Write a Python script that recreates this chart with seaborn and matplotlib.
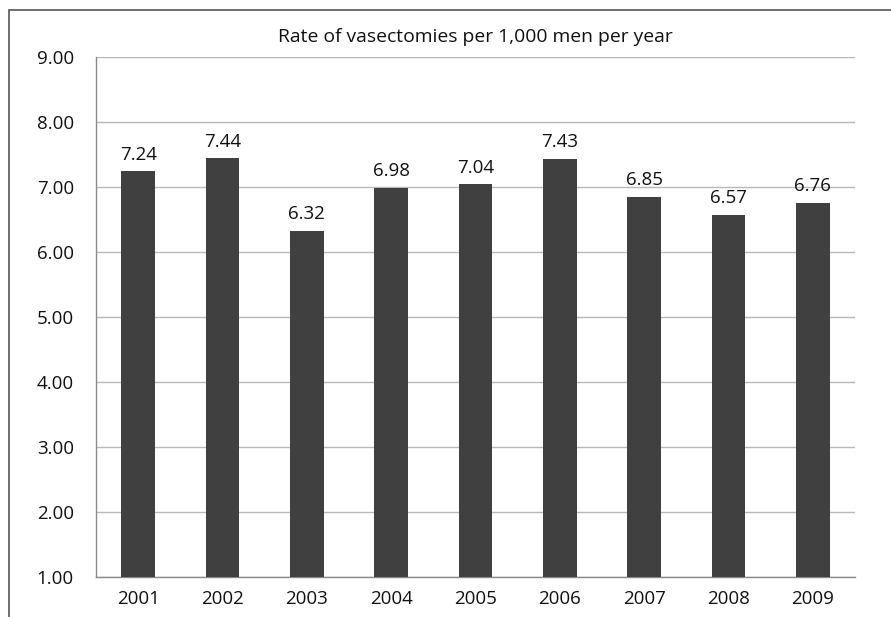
import matplotlib
matplotlib.use("Agg")
import matplotlib.pyplot as plt
import seaborn as sns
import pandas as pd
from matplotlib.patches import Rectangle

years = ["2001", "2002", "2003", "2004", "2005", "2006", "2007", "2008", "2009"]
rates = [7.24, 7.44, 6.32, 6.98, 7.04, 7.43, 6.85, 6.57, 6.76]
y_ticks = [1, 2, 3, 4, 5, 6, 7, 8, 9]

df = pd.DataFrame({"year": years, "rate": rates})

sns.set_theme(style="white")
plt.rcParams["font.family"] = ["Open Sans", "DejaVu Sans"]

fig = plt.figure(figsize=(8.91, 6.17), dpi=100)
ax = fig.add_axes([96 / 891, 1 - 577 / 617, (855 - 96) / 891, (577 - 57) / 617])

sns.barplot(data=df, x="year", y="rate", color="#404040", width=0.4,
            saturation=1, ax=ax, zorder=3)
for p in ax.patches:
    p.set_edgecolor("none")

fs = 13.5
ax.set_ylim(1, 9)
ax.set_yticks(y_ticks)
ax.set_yticklabels([f"{v:.2f}" for v in y_ticks], fontsize=fs, color="#111111")
ax.tick_params(axis="x", labelsize=fs, colors="#111111", pad=9, length=0)
ax.tick_params(axis="y", pad=16, length=0)
ax.set_xlabel("")
ax.set_ylabel("")
ax.yaxis.grid(True, color="#b8b8b8", linewidth=1)
ax.set_axisbelow(True)
for side in ["top", "right"]:
    ax.spines[side].set_visible(False)
for side in ["left", "bottom"]:
    ax.spines[side].set_color("#8a8a8a")
    ax.spines[side].set_linewidth(1)

for i, v in enumerate(rates):
    ax.text(i, v + 0.12, f"{v:.2f}", ha="center", va="bottom",
            fontsize=fs, color="#111111")

fig.text((96 + 855) / 2 / 891, 1 - 37 / 617, "Rate of vasectomies per 1,000 men per year",
         ha="center", va="center", fontsize=13.9, color="#111111")

fig.patches.append(Rectangle((9 / 891, -0.1), 1.2, 1 - 10 / 617 + 0.1,
                             transform=fig.transFigure, fill=False,
                             edgecolor="#555555", linewidth=1.2))

fig.savefig("out.png", dpi=100)
